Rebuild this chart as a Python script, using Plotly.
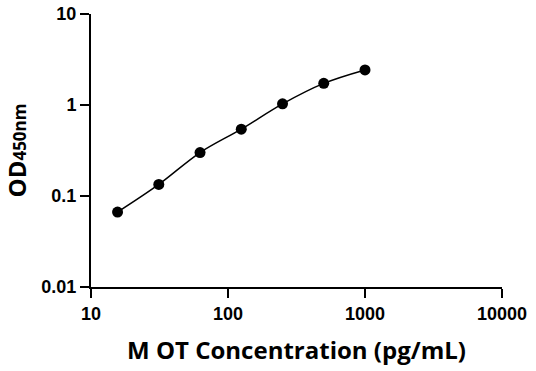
import plotly.graph_objects as go

concentration = [15.625, 31.25, 62.5, 125, 250, 500, 1000]
od450 = [0.0666, 0.134, 0.300, 0.543, 1.03, 1.73, 2.43]
x_ticks = [10, 100, 1000, 10000]
x_tick_labels = ["10", "100", "1000", "10000"]
y_ticks = [0.01, 0.1, 1, 10]
y_tick_labels = ["0.01", "0.1", "1", "10"]

tick_font = dict(family="Liberation Sans, Arial", size=18, color="black", weight="bold")
title_font = dict(family="Open Sans, Noto Sans", size=24, color="black", weight="bold")

fig = go.Figure()
fig.add_trace(go.Scatter(
    x=concentration, y=od450, mode="lines",
    line=dict(color="black", width=1.5, shape="spline", smoothing=1.0),
    showlegend=False, hoverinfo="skip"))
fig.add_trace(go.Scatter(
    x=concentration, y=od450, mode="markers",
    marker=dict(color="black", size=11),
    showlegend=False))

fig.update_layout(
    width=536, height=371,
    margin=dict(l=91, r=34, t=14, b=84, autoexpand=False),
    paper_bgcolor="white", plot_bgcolor="white",
    font=dict(family="Open Sans", color="black"),
)
fig.update_xaxes(
    type="log", range=[1, 4], automargin=False, ticklabeloverflow="allow",
    tickvals=x_ticks, ticktext=x_tick_labels,
    ticks="outside", ticklen=9, tickwidth=2, tickcolor="black",
    showline=True, linewidth=2, linecolor="black",
    showgrid=False, zeroline=False,
    tickfont=tick_font,
    title=dict(text="M OT Concentration (pg/mL)", font=title_font, standoff=20),
)
fig.update_yaxes(
    type="log", range=[-2, 1], automargin=False, ticklabeloverflow="allow",
    tickvals=y_ticks, ticktext=y_tick_labels,
    ticks="outside", ticklen=9, tickwidth=2, tickcolor="black",
    showline=True, linewidth=2, linecolor="black",
    showgrid=False, zeroline=False,
    tickfont=tick_font,
    title=dict(text="OD<span style='font-size:17px'>450nm</span>", font=title_font, standoff=12),
)

fig.write_html("out.html", config={"displayModeBar": False},
               post_script="document.body.style.margin='0';")
